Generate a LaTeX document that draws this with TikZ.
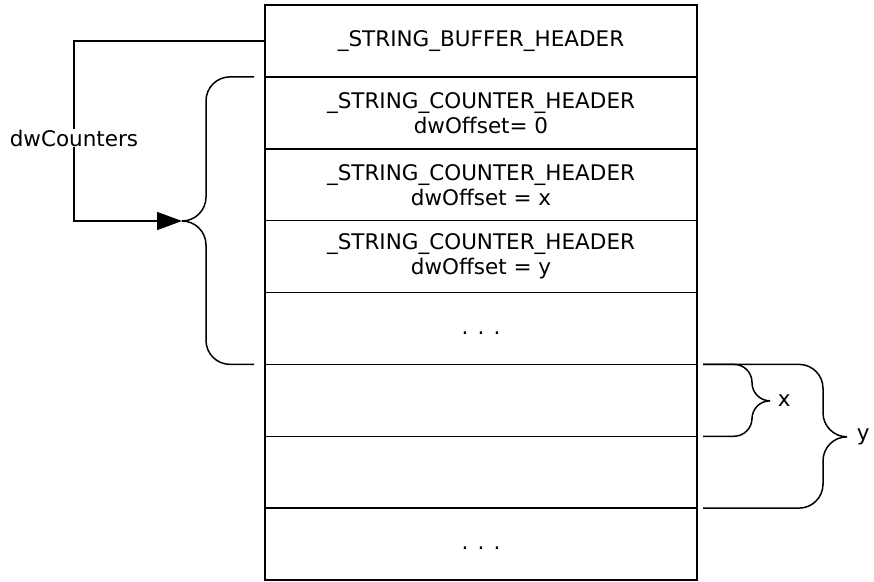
\documentclass[tikz,border=0pt]{standalone}
\usepackage{fontspec}
\setmainfont{DejaVu Sans}
\usetikzlibrary{positioning,arrows.meta}
\tikzset{
  slot/.style={draw, minimum width=432pt, minimum height=71.875pt,
               inner sep=0pt, outer sep=0pt, align=center},
  curly/.style={rounded corners=#1},
}
\begin{document}
\begin{tikzpicture}
[x=1pt, y=-1pt, line width=1.5pt,
 font=\fontsize{21.5}{25}\selectfont]
  \useasboundingbox (0,0) rectangle (874,581);
  % the buffer, one slot under another
  \node[slot] (buffer) at (481,40.94) {\_STRING\_BUFFER\_HEADER};
  \node[slot, below=0pt of buffer] (counter0) {\_STRING\_COUNTER\_HEADER\\dwOffset= 0};
  \node[slot, below=0pt of counter0] (counterx) {\_STRING\_COUNTER\_HEADER\\dwOffset = x};
  \node[slot, below=0pt of counterx] (countery) {\_STRING\_COUNTER\_HEADER\\dwOffset = y};
  \node[slot, below=0pt of countery] (moreA) {\vphantom{x}. . .};
  \node[slot, below=0pt of moreA] (dataA) {};
  \node[slot, below=0pt of dataA] (dataB) {};
  \node[slot, below=0pt of dataB] (moreB) {\vphantom{x}. . .};
  % brace round the counter headers
  \coordinate (counterstip) at (182,221);
  \draw[curly=24pt] ([xshift=-11pt]counter0.north west) -| (206,221) -- (counterstip);
  \draw[curly=24pt] (counterstip) -- (206,221) |- ([xshift=-11pt]moreA.south west);
  % dwCounters
  \draw[-{Triangle[length=25pt,width=18pt]}] (buffer.west) -| node[pos=0.77, fill=white, inner sep=1pt] {dwCounters} (74,221) -- (counterstip);
  % braces for the offsets
  \coordinate (xtip) at (770,400.8);
  \coordinate (ytip) at (847,436.8);
  \draw[curly=18pt] ([xshift=6pt]dataA.north east) -| (752,400.8) -- (xtip);
  \draw[curly=18pt] (xtip) -- (752,400.8) |- ([xshift=6pt]dataA.south east);
  \draw[curly=24pt] ([xshift=6pt]dataA.north east) -| (823,436.8) -- (ytip);
  \draw[curly=24pt] (ytip) -- (823,436.8) |- ([xshift=6pt]dataB.south east);
  \node[right=6pt of xtip, inner sep=1pt] (xlabel) {x};
  \node[right=8pt of ytip, inner sep=1pt] (ylabel) {y};
\end{tikzpicture}
\end{document}
